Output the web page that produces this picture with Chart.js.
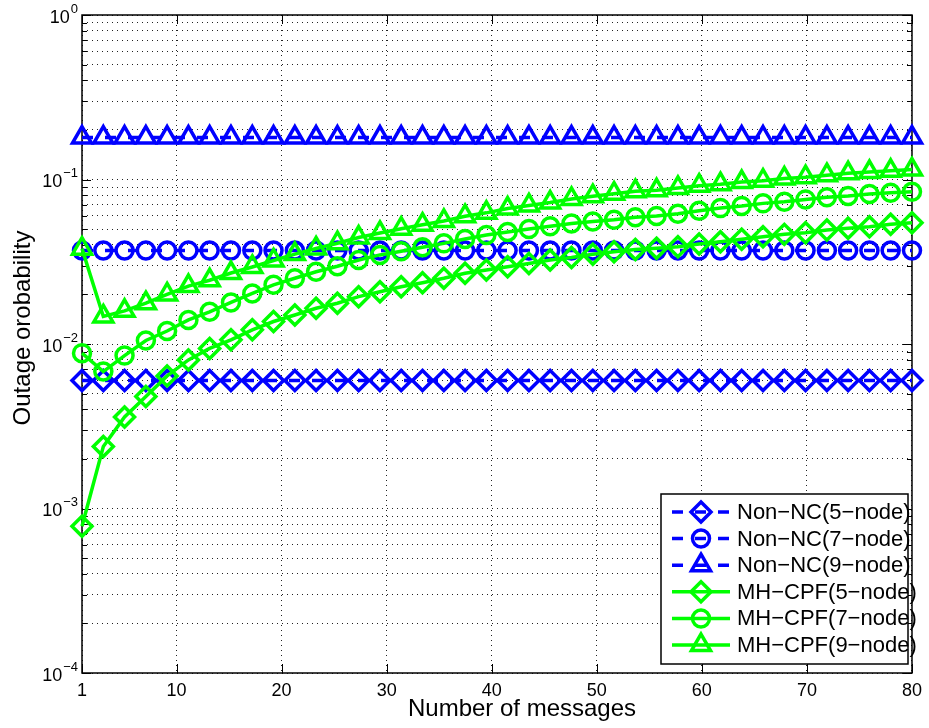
<!DOCTYPE html>
<html>
<head>
<meta charset="utf-8">
<script src="https://cdn.jsdelivr.net/npm/chart.js@4.4.0/dist/chart.umd.min.js"></script>
<style>
body { margin: 0; background: #fff; }
</style>
</head>
<body>
<canvas id="outageChart" width="929" height="728"></canvas>
<script>
// number of messages (x positions of the markers)
var messages = [1, 3.03, 5.05, 7.08, 9.10, 11.13, 13.15, 15.18, 17.21, 19.23,
    21.26, 23.28, 25.31, 27.33, 29.36, 31.38, 33.41, 35.44, 37.46, 39.49,
    41.51, 43.54, 45.56, 47.59, 49.62, 51.64, 53.67, 55.69, 57.72, 59.74,
    61.77, 63.79, 65.82, 67.85, 69.87, 71.90, 73.92, 75.95, 77.97, 80];

var nonNc5 = [0.006, 0.006, 0.006, 0.006, 0.006, 0.006, 0.006, 0.006, 0.006, 0.006,
    0.006, 0.006, 0.006, 0.006, 0.006, 0.006, 0.006, 0.006, 0.006, 0.006,
    0.006, 0.006, 0.006, 0.006, 0.006, 0.006, 0.006, 0.006, 0.006, 0.006,
    0.006, 0.006, 0.006, 0.006, 0.006, 0.006, 0.006, 0.006, 0.006, 0.006];
var nonNc7 = [0.037, 0.037, 0.037, 0.037, 0.037, 0.037, 0.037, 0.037, 0.037, 0.037,
    0.037, 0.037, 0.037, 0.037, 0.037, 0.037, 0.037, 0.037, 0.037, 0.037,
    0.037, 0.037, 0.037, 0.037, 0.037, 0.037, 0.037, 0.037, 0.037, 0.037,
    0.037, 0.037, 0.037, 0.037, 0.037, 0.037, 0.037, 0.037, 0.037, 0.037];
var nonNc9 = [0.18, 0.18, 0.18, 0.18, 0.18, 0.18, 0.18, 0.18, 0.18, 0.18,
    0.18, 0.18, 0.18, 0.18, 0.18, 0.18, 0.18, 0.18, 0.18, 0.18,
    0.18, 0.18, 0.18, 0.18, 0.18, 0.18, 0.18, 0.18, 0.18, 0.18,
    0.18, 0.18, 0.18, 0.18, 0.18, 0.18, 0.18, 0.18, 0.18, 0.18];

var mhCpf5 = [0.00078, 0.00238, 0.0036, 0.0048, 0.0064, 0.0080, 0.0094, 0.0106, 0.0122, 0.0137,
    0.0150, 0.0165, 0.0177, 0.0194, 0.0208, 0.0223, 0.0236, 0.0251, 0.0269, 0.0282,
    0.0295, 0.0309, 0.0324, 0.0336, 0.0351, 0.0364, 0.0375, 0.0382, 0.0390, 0.0405,
    0.0418, 0.0433, 0.0449, 0.0464, 0.0475, 0.0493, 0.0505, 0.0516, 0.0534, 0.0546];
var mhCpf7 = [0.0088, 0.0068, 0.0085, 0.0105, 0.0120, 0.0140, 0.0157, 0.0179, 0.0203, 0.0229,
    0.0251, 0.0275, 0.0297, 0.0324, 0.0348, 0.0366, 0.0387, 0.0409, 0.0435, 0.0460,
    0.0480, 0.0500, 0.0520, 0.0540, 0.0555, 0.0570, 0.0590, 0.0600, 0.0620, 0.0646,
    0.0670, 0.0690, 0.0716, 0.0733, 0.0757, 0.0780, 0.0794, 0.0816, 0.0830, 0.0843];
var mhCpf9 = [0.038, 0.0147, 0.0159, 0.0177, 0.0200, 0.0225, 0.0244, 0.0270, 0.0294, 0.0322,
    0.0352, 0.0381, 0.0410, 0.0444, 0.0473, 0.0502, 0.0531, 0.0560, 0.0598, 0.0627,
    0.0666, 0.0695, 0.0724, 0.0762, 0.0791, 0.0820, 0.0849, 0.0859, 0.0888, 0.0917,
    0.0936, 0.0965, 0.0984, 0.1013, 0.1033, 0.1062, 0.1090, 0.1110, 0.1130, 0.1150];

var xTicks = [1, 10, 20, 30, 40, 50, 60, 70, 80];
var yDecades = [-4, -3, -2, -1, 0];

var FONT = '"Liberation Sans", Arial, Helvetica, sans-serif';
var blue = '#0000ff';
var green = '#00ff00';

function pts(ys) {
    return messages.map(function(m, i) { return {x: m, y: ys[i]}; });
}

function series(label, ys, color, shape, radius, dashed, order) {
    return {
        label: label,
        data: pts(ys),
        borderColor: color,
        borderWidth: 3.5,
        borderDash: dashed ? [11, 12] : [],
        pointStyle: shape,
        pointRadius: radius,
        pointHoverRadius: radius,
        pointBorderWidth: 3.5,
        pointBorderColor: color,
        pointBackgroundColor: 'rgba(0,0,0,0)',
        fill: false,
        tension: 0,
        clip: false,
        order: order
    };
}

var datasets = [
    series('Non\u2212NC(5\u2212node)', nonNc5, blue, 'rectRot', 10, true, 2),
    series('Non\u2212NC(7\u2212node)', nonNc7, blue, 'circle', 8.5, true, 2),
    series('Non\u2212NC(9\u2212node)', nonNc9, blue, 'triangle', 11, true, 2),
    series('MH\u2212CPF(5\u2212node)', mhCpf5, green, 'rectRot', 10, false, 1),
    series('MH\u2212CPF(7\u2212node)', mhCpf7, green, 'circle', 8.5, false, 1),
    series('MH\u2212CPF(9\u2212node)', mhCpf9, green, 'triangle', 11, false, 1)
];

function isDecade(v) {
    var l = Math.log10(v);
    return Math.abs(l - Math.round(l)) < 1e-9;
}

// matlab style frame, inner tick marks, 10^k labels, axis titles, legend
var matlabAxes = {
    id: 'matlabAxes',
    beforeDatasetsDraw: function(chart) {
        var a = chart.chartArea, c = chart.ctx;
        var xs = chart.scales.x, ys = chart.scales.y;
        c.save();
        c.strokeStyle = '#000';
        c.lineWidth = 1;
        c.setLineDash([]);
        c.beginPath();
        xTicks.forEach(function(v) {
            var px = Math.round(xs.getPixelForValue(v)) + 0.5;
            c.moveTo(px, a.bottom); c.lineTo(px, a.bottom - 9);
            c.moveTo(px, a.top); c.lineTo(px, a.top + 9);
        });
        ys.ticks.forEach(function(t) {
            var py = Math.round(ys.getPixelForValue(t.value)) + 0.5;
            var len = isDecade(t.value) ? 9 : 5;
            c.moveTo(a.left, py); c.lineTo(a.left + len, py);
            c.moveTo(a.right, py); c.lineTo(a.right - len, py);
        });
        c.stroke();
        c.lineWidth = 1.5;
        c.strokeRect(a.left, a.top, a.right - a.left, a.bottom - a.top);
        c.restore();
    },
    afterDraw: function(chart) {
        var a = chart.chartArea, c = chart.ctx;
        var ys = chart.scales.y;
        c.save();
        c.fillStyle = '#000';
        c.textBaseline = 'middle';
        yDecades.forEach(function(d) {
            var py = ys.getPixelForValue(Math.pow(10, d));
            var exp = d < 0 ? '\u2212' + (-d) : String(d);
            c.font = '13px ' + FONT;
            var we = c.measureText(exp).width;
            c.font = '18px ' + FONT;
            var wb = c.measureText('10').width;
            var x0 = a.left - 5 - we - wb;
            c.textAlign = 'left';
            c.fillText('10', x0, py + 3);
            c.font = '13px ' + FONT;
            c.fillText(exp, x0 + wb + 1, py - 6);
        });

        c.font = '24px ' + FONT;
        c.textAlign = 'center';
        c.textBaseline = 'alphabetic';
        c.fillText('Number of messages', 522, 716);
        c.save();
        c.translate(30, 328);
        c.rotate(-Math.PI / 2);
        c.fillText('Outage orobability', 0, 0);
        c.restore();

        // legend box
        var box = {left: 661, top: 494, right: 908, bottom: 664};
        c.fillStyle = '#fff';
        c.fillRect(box.left, box.top, box.right - box.left, box.bottom - box.top);
        c.textBaseline = 'middle';
        chart.data.datasets.forEach(function(ds, i) {
            var y = box.top + 18 + i * 26.6;
            c.strokeStyle = ds.borderColor;
            c.lineWidth = 3.5;
            c.setLineDash(ds.borderDash);
            c.beginPath();
            c.moveTo(672, y); c.lineTo(730, y);
            c.stroke();
            c.setLineDash([]);
            c.fillStyle = 'rgba(0,0,0,0)';
            Chart.helpers.drawPoint(c, {pointStyle: ds.pointStyle, radius: ds.pointRadius,
                borderWidth: 3.5, rotation: 0}, 701, y);
            c.fillStyle = '#000';
            c.font = '22px ' + FONT;
            c.textAlign = 'left';
            c.fillText(ds.label, 737, y + 1);
        });
        c.strokeStyle = '#000';
        c.lineWidth = 1.5;
        c.strokeRect(box.left, box.top, box.right - box.left, box.bottom - box.top);
        c.restore();
    }
};

var ctx = document.getElementById('outageChart').getContext('2d');
var outageChart = new Chart(ctx, {
    type: 'line',
    data: {datasets: datasets},
    options: {
        responsive: false,
        animation: false,
        events: [],
        layout: {padding: {left: 0, right: 12, top: 15, bottom: 0}},
        plugins: {legend: {display: false}, tooltip: {enabled: false}},
        scales: {
            x: {
                type: 'linear',
                min: 1,
                max: 80,
                afterBuildTicks: function(s) {
                    s.ticks = xTicks.map(function(v) { return {value: v}; });
                },
                afterFit: function(s) { s.height = 55; },
                grid: {color: '#222', lineWidth: 1, drawTicks: false},
                border: {display: false, dash: [1, 4]},
                ticks: {
                    color: '#000',
                    font: {family: FONT, size: 18},
                    padding: 7,
                    maxRotation: 0,
                    autoSkip: false
                }
            },
            y: {
                type: 'logarithmic',
                min: 1e-4,
                max: 1,
                afterBuildTicks: function(s) {
                    var t = [];
                    yDecades.forEach(function(d) {
                        if (d === 0) { t.push({value: 1}); return; }
                        for (var m = 1; m <= 9; m++) t.push({value: m * Math.pow(10, d)});
                    });
                    s.ticks = t;
                },
                afterFit: function(s) { s.width = 82; },
                grid: {color: '#222', lineWidth: 1, drawTicks: false},
                border: {display: false, dash: [1, 4]},
                ticks: {display: false}
            }
        }
    },
    plugins: [matlabAxes]
});
</script>
</body>
</html>
